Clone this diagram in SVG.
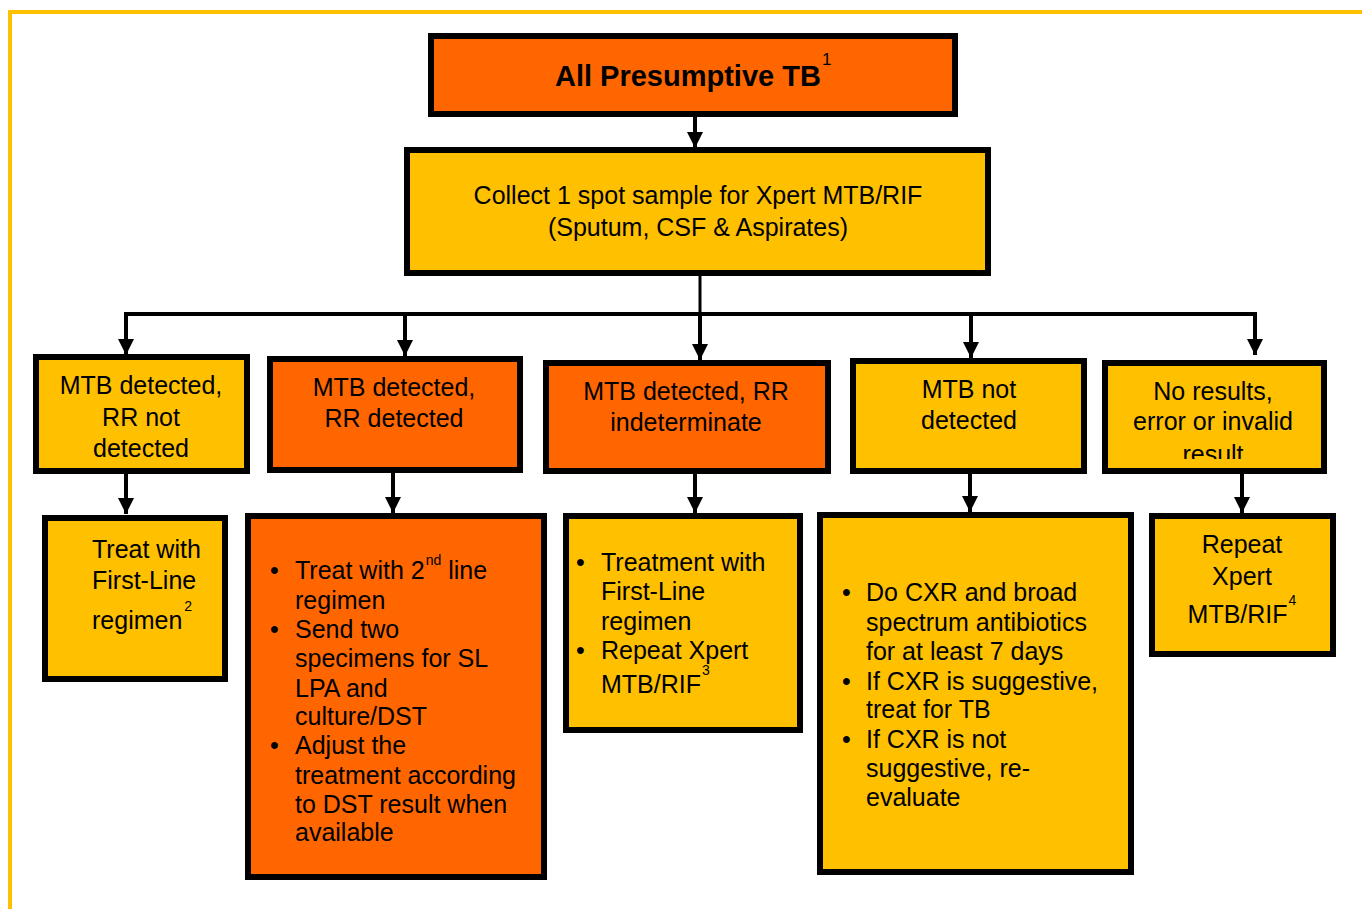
<svg xmlns="http://www.w3.org/2000/svg" width="1362" height="909" viewBox="0 0 1362 909">
<style>
.box{stroke:#000;stroke-width:6}
.or{fill:#FF6600}
.ye{fill:#FFC000}
text{font-family:"Liberation Sans",Arial,sans-serif;font-size:25px;fill:#000}
.c{text-anchor:middle}
.sup{font-size:14px}
.title{font-weight:bold;font-size:29px}
.conn{stroke:#000;stroke-width:4;fill:none}
.border{stroke:#FFC000;stroke-width:4;fill:none}
</style>
<defs>
<marker id="ah" markerUnits="userSpaceOnUse" markerWidth="16" markerHeight="17" refX="16" refY="8" orient="auto">
<path d="M0,0 L16,8 L0,16 Z" fill="#000"/>
</marker>
<clipPath id="clipE"><rect x="1105" y="363" width="219" height="96"/></clipPath>
</defs>
<rect width="1362" height="909" fill="#fff"/>
<path class="border" d="M10,909 L10,12 L1362,12"/>

<g id="connectors">
<line class="conn" x1="695" y1="117" x2="695" y2="148" marker-end="url(#ah)"/>
<line class="conn" x1="700" y1="276" x2="700" y2="314" style="stroke-width:3"/>
<line class="conn" x1="124" y1="314" x2="1257" y2="314"/>
<line class="conn" x1="126" y1="314" x2="126" y2="355" marker-end="url(#ah)"/>
<line class="conn" x1="405" y1="314" x2="405" y2="356" marker-end="url(#ah)"/>
<line class="conn" x1="700" y1="314" x2="700" y2="360" marker-end="url(#ah)"/>
<line class="conn" x1="971" y1="314" x2="971" y2="358" marker-end="url(#ah)"/>
<line class="conn" x1="1255" y1="314" x2="1255" y2="355" marker-end="url(#ah)"/>
<line class="conn" x1="126" y1="474" x2="126" y2="514" marker-end="url(#ah)"/>
<line class="conn" x1="393" y1="473" x2="393" y2="513" marker-end="url(#ah)"/>
<line class="conn" x1="695" y1="474" x2="695" y2="513" marker-end="url(#ah)"/>
<line class="conn" x1="970" y1="474" x2="970" y2="512" marker-end="url(#ah)"/>
<line class="conn" x1="1242" y1="474" x2="1242" y2="513" marker-end="url(#ah)"/>
</g>

<g id="n-presumptive">
<rect class="box or" x="431" y="36" width="524" height="78"/>
<text class="title" x="555" y="86">All Presumptive TB<tspan font-size="17px" font-weight="normal" dx="1" dy="-21">1</tspan></text>
</g>

<g id="n-collect">
<rect class="box ye" x="407" y="150" width="581" height="123"/>
<text class="c" x="698" y="204">Collect 1 spot sample for Xpert MTB/RIF</text>
<text class="c" x="698" y="236">(Sputum, CSF &amp; Aspirates)</text>
</g>

<g id="n-rr-not-detected">
<rect class="box ye" x="36" y="357" width="211" height="114"/>
<text class="c" x="141" y="394">MTB detected,</text>
<text class="c" x="141" y="426">RR not</text>
<text class="c" x="141" y="457">detected</text>
</g>

<g id="n-rr-detected">
<rect class="box or" x="270" y="359" width="250" height="111"/>
<text class="c" x="394" y="396">MTB detected,</text>
<text class="c" x="394" y="427">RR detected</text>
</g>

<g id="n-rr-indeterminate">
<rect class="box or" x="546" y="363" width="282" height="108"/>
<text class="c" x="686" y="400">MTB detected, RR</text>
<text class="c" x="686" y="431">indeterminate</text>
</g>

<g id="n-not-detected">
<rect class="box ye" x="853" y="361" width="231" height="110"/>
<text class="c" x="969" y="398">MTB not</text>
<text class="c" x="969" y="429">detected</text>
</g>

<g id="n-no-results">
<rect class="box ye" x="1105" y="363" width="219" height="108"/>
<g clip-path="url(#clipE)">
<text class="c" x="1213" y="400">No results,</text>
<text class="c" x="1213" y="430">error or invalid</text>
<text class="c" x="1213" y="463">result</text>
</g>
</g>

<g id="n-first-line">
<rect class="box ye" x="45" y="518" width="180" height="161"/>
<text x="92" y="558">Treat with</text>
<text x="92" y="589">First-Line</text>
<text x="92" y="629">regimen<tspan class="sup" dx="2" dy="-18">2</tspan></text>
</g>

<g id="n-second-line">
<rect class="box or" x="248" y="516" width="296" height="361"/>
<text x="270" y="579">•</text>
<text x="295" y="579">Treat with 2<tspan class="sup" dx="1" dy="-14">nd</tspan><tspan dy="14"> line</tspan></text>
<text x="295" y="609">regimen</text>
<text x="270" y="638">•</text>
<text x="295" y="638">Send two</text>
<text x="295" y="667">specimens for SL</text>
<text x="295" y="697">LPA and</text>
<text x="295" y="725">culture/DST</text>
<text x="270" y="754">•</text>
<text x="295" y="754">Adjust the</text>
<text x="295" y="784">treatment according</text>
<text x="295" y="813">to DST result when</text>
<text x="295" y="841">available</text>
</g>

<g id="n-treatment-first-line">
<rect class="box ye" x="566" y="516" width="234" height="214"/>
<text x="576" y="571">•</text>
<text x="601" y="571">Treatment with</text>
<text x="601" y="600">First-Line</text>
<text x="601" y="630">regimen</text>
<text x="576" y="659">•</text>
<text x="601" y="659">Repeat Xpert</text>
<text x="601" y="693">MTB/RIF<tspan class="sup" dx="1" dy="-18">3</tspan></text>
</g>

<g id="n-cxr">
<rect class="box ye" x="820" y="515" width="311" height="357"/>
<text x="842" y="601">•</text>
<text x="866" y="601">Do CXR and broad</text>
<text x="866" y="631">spectrum antibiotics</text>
<text x="866" y="660">for at least 7 days</text>
<text x="842" y="690">•</text>
<text x="866" y="690">If CXR is suggestive,</text>
<text x="866" y="718">treat for TB</text>
<text x="842" y="748">•</text>
<text x="866" y="748">If CXR is not</text>
<text x="866" y="777">suggestive, re-</text>
<text x="866" y="806">evaluate</text>
</g>

<g id="n-repeat-xpert">
<rect class="box ye" x="1152" y="516" width="181" height="138"/>
<text class="c" x="1242" y="553">Repeat</text>
<text class="c" x="1242" y="585">Xpert</text>
<text class="c" x="1242" y="623">MTB/RIF<tspan class="sup" dx="1" dy="-18">4</tspan></text>
</g>
</svg>
